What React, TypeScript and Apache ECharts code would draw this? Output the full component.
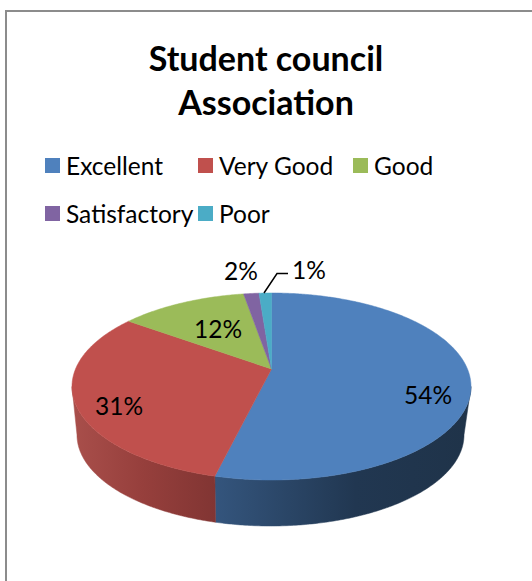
import React, { useEffect, useRef } from "react";
import * as echarts from "echarts";

const categories = ["Excellent", "Very Good", "Good", "Satisfactory", "Poor"];
const shares = [53.8, 31.2, 12.3, 1.5, 1.2];

const colors = ["#4f81bd", "#c0504d", "#9bbb59", "#8064a2", "#4bacc6"];
const wallStops: (null | [string, string, string])[] = [
  ["#34557d", "#213751", "#1f3349"],
  ["#a94f4b", "#963f3c", "#813533"],
  null,
  null,
  null,
];
const labelCenters = [
  [428, 394],
  [119, 405],
  [218, 328],
  [241, 270],
  [309, 269],
];
const legendSpots = [
  [45, 153],
  [198, 153],
  [353, 153],
  [45, 201],
  [198, 201],
];

// Perspective disc: fitted to the top face outline
const CX = 271.5;
const APEX_Y = 369;
const TOP_Y = 293;
const BOT_Y = 480;
const MID_Y = (TOP_Y + BOT_Y) / 2;
const RX = 199.5;
const BASE_SCALE_X = 0.97;
const BASE_SCALE_Y = 0.975;
const BASE_SHIFT_X = -1;
const BASE_BOTTOM = 526;
const C = (2 * APEX_Y - TOP_Y - BOT_Y) / (BOT_Y - TOP_Y);
const A = APEX_Y - TOP_Y + TOP_Y * C;
const R = RX * Math.sqrt(1 - C * C);
const BASE_MID = BASE_BOTTOM - ((BOT_Y - TOP_Y) / 2) * BASE_SCALE_Y;

function top(theta: number): [number, number] {
  const u = Math.sin(theta);
  const v = -Math.cos(theta);
  const d = 1 + C * v;
  return [CX + (R * u) / d, (A * v + APEX_Y) / d];
}
function base(theta: number): [number, number] {
  const [x, y] = top(theta);
  return [CX + BASE_SHIFT_X + (x - CX) * BASE_SCALE_X, BASE_MID + (y - MID_Y) * BASE_SCALE_Y];
}

const total = shares.reduce((a, b) => a + b, 0);
const TAU = Math.PI * 2;
const WALL_FROM = TAU * 0.28;
const WALL_TO = TAU * 0.72;

function arc(f: (t: number) => [number, number], a: number, b: number) {
  const n = Math.max(2, Math.ceil(Math.abs(b - a) / 0.01));
  const pts: [number, number][] = [];
  for (let i = 0; i <= n; i++) pts.push(f(a + ((b - a) * i) / n));
  return pts;
}

function renderSlice(index: number) {
  return (_params: any, api: any) => {
    const value = api.value(0);
    const start = (api.value(1) / total) * TAU;
    const end = start + (value / total) * TAU;
    const children: any[] = [];
    const stops = wallStops[index];
    const wa = Math.max(start, WALL_FROM);
    const wb = Math.min(end, WALL_TO);
    if (stops && wb > wa) {
      const edge = [...arc(top, wa, wb), ...arc(base, wa, wb).reverse()];
      const xs = edge.map((p) => p[0]);
      const x0 = Math.min(...xs);
      const x1 = Math.max(...xs);
      const grad = {
        type: "linear",
        x: x0,
        y: 0,
        x2: x1,
        y2: 0,
        global: true,
        colorStops: [
          { offset: 0, color: stops[0] },
          { offset: index === 0 ? 0.55 : 0.5, color: stops[1] },
          { offset: 1, color: stops[2] },
        ],
      };
      children.push({
        type: "polygon",
        shape: { points: edge },
        style: { fill: grad, stroke: grad, lineWidth: 0.5 },
      });
    }
    const face = [[CX, APEX_Y], ...arc(top, start, end)];
    children.push({
      type: "polygon",
      shape: { points: face },
      style: { fill: colors[index], stroke: colors[index], lineWidth: 0.5 },
    });
    children.push({
      type: "text",
      z2: 10,
      x: labelCenters[index][0],
      y: labelCenters[index][1],
      style: {
        text: `${Math.round((value / total) * 100)}%`,
        fill: "#000",
        fontFamily: "Lato",
        fontSize: 24.5,
        align: "center",
        verticalAlign: "middle",
      },
    });
    return { type: "group", children };
  };
}

export default function App() {
  const ref = useRef<HTMLDivElement>(null);
  useEffect(() => {
    const chart = echarts.init(ref.current!, undefined, { renderer: "svg" });
    let run = 0;
    const series = categories.map((name, i) => {
      const data = [[shares[i], run]];
      run += shares[i];
      return {
        type: "custom",
        name,
        coordinateSystem: "none",
        silent: true,
        itemStyle: { color: colors[i] },
        renderItem: renderSlice(i),
        data,
      };
    });
    chart.setOption({
      animation: false,
      backgroundColor: "#fff",
      title: {
        text: "Student council\nAssociation",
        left: "center",
        top: 35,
        padding: 0,
        textStyle: {
          fontFamily: "Lato",
          fontWeight: "bold",
          fontSize: 34,
          lineHeight: 44,
          color: "#000",
        },
      },
      legend: categories.map((name, i) => ({
        data: [name],
        left: legendSpots[i][0],
        top: legendSpots[i][1],
        padding: 0,
        icon: "rect",
        itemWidth: 15,
        itemHeight: 15,
        selectedMode: false,
        textStyle: { fontFamily: "Lato", fontSize: 24.5, color: "#000", padding: [0, 0, 0, 1] },
      })),
      graphic: [
        {
          type: "rect",
          silent: true,
          shape: { x: 6, y: 11, width: 700, height: 800 },
          style: { fill: "none", stroke: "#8c8c8c", lineWidth: 2 },
        },
        {
          type: "polyline",
          silent: true,
          z: 20,
          shape: { points: [[264, 293], [277, 273.5], [288, 273.5]] },
          style: { fill: "none", stroke: "#000", lineWidth: 1.5 },
        },
      ],
      series,
    });
    return () => chart.dispose();
  }, []);
  return <div ref={ref} style={{ position: "fixed", left: 0, top: 0, width: 532, height: 581 }} />;
}
